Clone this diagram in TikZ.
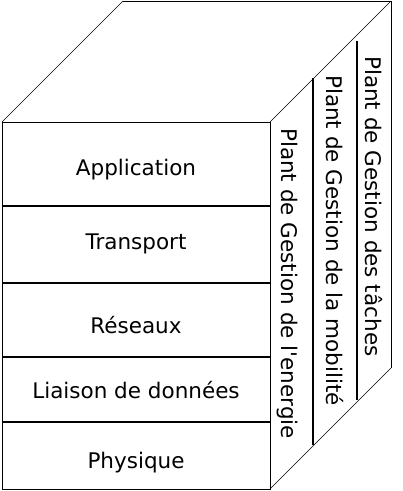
\documentclass[tikz,border=0pt]{standalone}
\usepackage{fontspec}
\setmainfont{DejaVu Sans}[Ligatures=TeXOff]
\begin{document}
\begin{tikzpicture}[x=1pt,y=-1pt,
  outer/.style={line width=0.8pt},
  diag/.style={line width=0.5pt},
  divider/.style={line width=1.6pt},
  sideline/.style={line width=1.6pt},
  layer/.style={anchor=base,inner sep=0pt,font=\fontsize{21.5}{25}\selectfont},
  plane/.style={anchor=base west,rotate=-90,inner sep=0pt,font=\fontsize{21.5}{25}\selectfont}]
\useasboundingbox (0,0) rectangle (403,491);
% named corners
\coordinate (ftl) at (2,122);
\coordinate (ftr) at (270,122);
\coordinate (fbr) at (270,489);
\coordinate (fbl) at (2,489);
\coordinate (btl) at (123,1);
\coordinate (btr) at (391,1);
\coordinate (bbr) at (391,368);
% front face
\draw[outer] (ftl) rectangle (fbr);
% top and right faces
\draw[diag] (ftl) -- (btl);
\draw[outer] (btl) -- (btr) -- (bbr);
\draw[diag] (ftr) -- (btr);
\draw[diag] (fbr) -- (bbr);
% layer dividers
\foreach \yy in {206,283,357,422}
  \draw[divider] (2,\yy) -- (271,\yy);
% side plane separators
\coordinate (s1t) at (313,78);
\coordinate (s1b) at (313,445);
\coordinate (s2t) at (357,41);
\coordinate (s2b) at (357,400);
\draw[sideline] (s1t) -- (s1b);
\draw[sideline] (s2t) -- (s2b);
% layer labels
\node[layer] (app) at (136,175) {Application};
\node[layer] (tra) at (136,249) {Transport};
\node[layer] (res) at (136,333) {Réseaux};
\node[layer] (lia) at (136,398) {Liaison de données};
\node[layer] (phy) at (136,468) {Physique};
% plane labels
\node[plane] (pe) at (281,128) {Plant de Gestion de l'energie};
\node[plane] (pm) at (326,75) {Plant de Gestion de la mobilité};
\node[plane] (pt) at (365,56) {Plant de Gestion des tâches};
\end{tikzpicture}
\end{document}
